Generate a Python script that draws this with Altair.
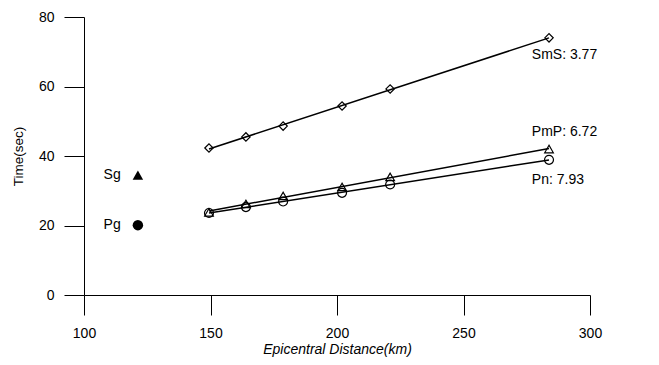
import altair as alt
import pandas as pd

# Epicentral distances (km) of the stations
distance_km = [149.4, 164.0, 178.7, 202.0, 221.0, 283.8]
# Travel times (sec) per phase
sms_time = [42.3, 45.5, 48.6, 54.4, 59.3, 74.0]
pmp_time = [23.8, 26.2, 28.5, 31.1, 34.0, 42.0]
pn_time = [23.6, 25.3, 26.9, 29.4, 31.8, 38.9]

phases = ["SmS", "PmP", "Pn"]
phase_shapes = ["diamond", "triangle-up", "circle"]

# velocity annotations
label_text = ["SmS: 3.77", "PmP: 6.72", "Pn: 7.93"]
label_x = [277.0, 277.0, 277.0]
label_y = [69.0, 46.9, 33.1]

# key markers (filled) Sg / Pg
key_text = ["Sg", "Pg"]
key_shape = ["triangle-up", "circle"]
key_x = [121.3, 121.3]
key_text_x = [114.5, 114.5]
key_y = [34.5, 20.1]

rows = []
for ph, ts in zip(phases, [sms_time, pmp_time, pn_time]):
    for d, t in zip(distance_km, ts):
        rows.append({"phase": ph, "d": d, "t": t})
df = pd.DataFrame(rows)

labels_df = pd.DataFrame({"txt": label_text, "d": label_x, "t": label_y})
key_df = pd.DataFrame({"txt": key_text, "shape": key_shape, "d": key_x,
                       "dt": key_text_x, "t": key_y})

FONT = "Liberation Sans"

xs = alt.Scale(domain=[100, 300], nice=False, zero=False)
ys = alt.Scale(domain=[0, 80], nice=False)

x_enc = alt.X("d:Q", scale=xs, axis=alt.Axis(
    title="Epicentral Distance(km)", values=[100, 150, 200, 250, 300],
    tickSize=20, labelPadding=11, grid=False, domainColor="black",
    tickColor="black", labelColor="black", labelFont=FONT, labelFontSize=14,
    titleFont=FONT, titleFontSize=14, titleFontStyle="italic",
    titleFontWeight="normal", titleColor="black", titleY=47,
    titleBaseline="top", labelFlush=False))
y_enc = alt.Y("t:Q", scale=ys, axis=alt.Axis(
    title="Time(sec)", values=[0, 20, 40, 60, 80], tickSize=20,
    labelPadding=10, grid=False, domainColor="black", tickColor="black",
    labelColor="black", labelFont=FONT, labelFontSize=14, titleFont=FONT,
    titleFontSize=13.5, titleFontWeight="normal", titleColor="black",
    titleX=-59, titleY=139, labelFlush=False))

lines = alt.Chart(df).transform_regression(
    "d", "t", groupby=["phase"]
).mark_line(color="black", strokeWidth=1.5).encode(
    x=x_enc, y=y_enc, detail="phase:N")

points = alt.Chart(df).mark_point(
    filled=False, color="black", strokeWidth=1.2, opacity=1
).encode(
    x=x_enc, y=y_enc,
    shape=alt.Shape("phase:N", scale=alt.Scale(domain=phases, range=phase_shapes), legend=None),
    size=alt.Size("phase:N", scale=alt.Scale(domain=phases, range=[70, 80, 100]), legend=None),
)

labels = alt.Chart(labels_df).mark_text(
    align="left", baseline="middle", font=FONT, fontSize=14, color="black"
).encode(x=x_enc, y=y_enc, text="txt:N")

key_pts = alt.Chart(key_df).mark_point(filled=True, color="black", opacity=1).encode(
    x=x_enc, y=y_enc,
    shape=alt.Shape("shape:N", scale=None),
    size=alt.value(110),
)
key_lbl = alt.Chart(key_df).mark_text(
    align="right", baseline="middle", font=FONT, fontSize=14, color="black"
).encode(x=alt.X("dt:Q", scale=xs), y=y_enc, text="txt:N")

chart = alt.layer(lines, points, labels, key_pts, key_lbl).properties(
    width=506, height=278,
    autosize=alt.AutoSizeParams(type="none"),
    padding={"left": 76, "top": 9, "right": 50, "bottom": 70},
    background="white",
).configure_view(stroke=None)

chart.save("out.html", embed_options={"renderer": "svg", "actions": False})
